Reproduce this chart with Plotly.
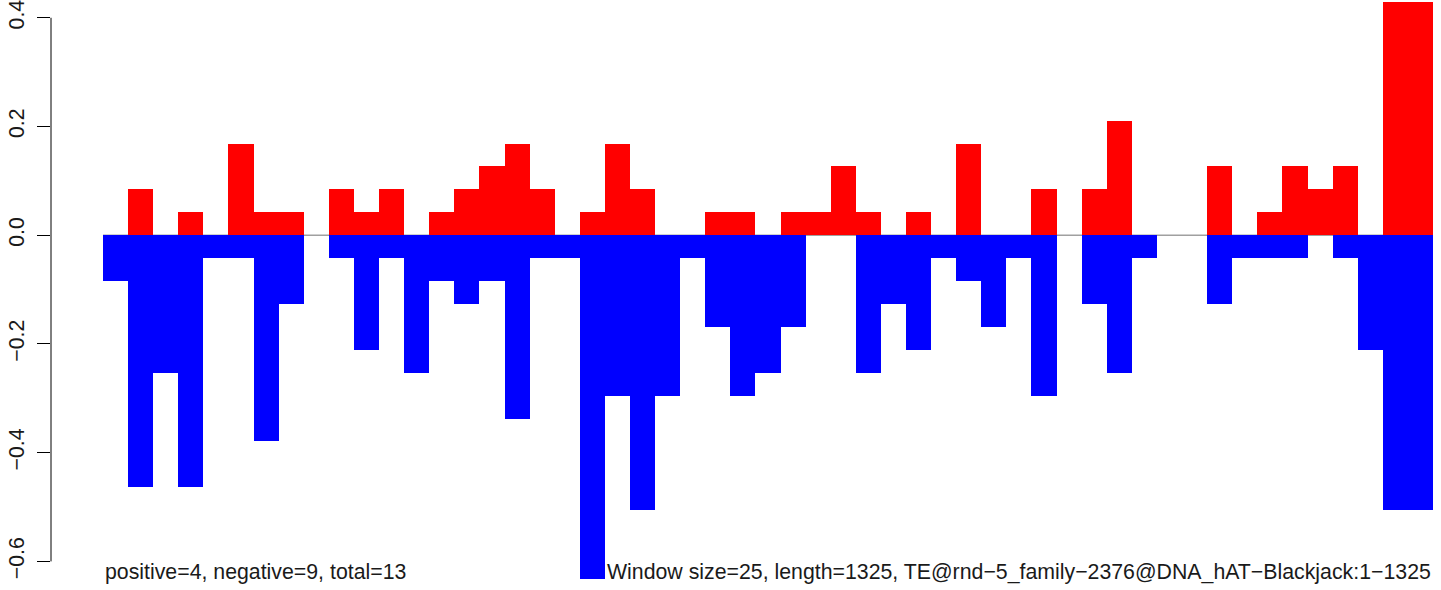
import plotly.graph_objects as go

window_size = 25
seq_length = 1325
window_starts = list(range(0, 1325, 25))  # 53 windows

positive = [0, 0.0843, 0, 0.0422, 0, 0.1686, 0.0422, 0.0422, 0, 0.0843,
            0.0422, 0.0843, 0, 0.0422, 0.0843, 0.1265, 0.1686, 0.0843, 0, 0.0422,
            0.1686, 0.0843, 0, 0, 0.0422, 0.0422, 0, 0.0422, 0.0422, 0.1265,
            0.0422, 0, 0.0422, 0, 0.1686, 0, 0, 0.0843, 0, 0.0843,
            0.2108, 0, 0, 0, 0.1265, 0, 0.0422, 0.1265, 0.0843, 0.1265,
            0, 0.5059, 0.5059]
negative = [-0.0843, -0.4638, -0.2530, -0.4638, -0.0422, -0.0422, -0.3794, -0.1265, 0, -0.0422,
            -0.2108, -0.0422, -0.2530, -0.0843, -0.1265, -0.0843, -0.3373, -0.0422, -0.0422, -0.6324,
            -0.2951, -0.5059, -0.2951, -0.0422, -0.1686, -0.2951, -0.2530, -0.1686, 0, 0,
            -0.2530, -0.1265, -0.2108, -0.0422, -0.0843, -0.1686, -0.0422, -0.2951, 0, -0.1265,
            -0.2530, -0.0422, 0, 0, -0.1265, -0.0422, -0.0422, -0.0422, 0, -0.0422,
            -0.2108, -0.5059, -0.5059]

ytick_vals = [-0.6, -0.4, -0.2, 0.0, 0.2, 0.4]
ytick_text = ["\u22120.6", "\u22120.4", "\u22120.2", "0.0", "0.2", "0.4"]

left_label = "positive=4, negative=9, total=13"
right_label = ("Window size=25, length=1325, TE@rnd\u22125_family\u22122376"
               "@DNA_hAT\u2212Blackjack:1\u22121325")

FONT = "Liberation Sans, Arial, Helvetica, sans-serif"

x_centers = [s + window_size / 2 for s in window_starts]

fig = go.Figure()
fig.add_trace(go.Bar(x=x_centers, y=positive, width=window_size,
                     marker=dict(color="#FF0000", line=dict(width=0)),
                     hoverinfo="skip"))
fig.add_trace(go.Bar(x=x_centers, y=negative, width=window_size,
                     marker=dict(color="#0000FF", line=dict(width=0)),
                     hoverinfo="skip"))

# zero reference line across the sequence
fig.add_shape(type="line", x0=0, x1=seq_length, y0=0, y1=0,
              xref="x", yref="y", layer="below",
              line=dict(color="#A0A0A0", width=1.5))
# y axis line spanning from first to last tick (R style)
fig.add_shape(type="line", x0=0, x1=0, y0=-0.6, y1=0.4,
              xref="paper", yref="y", layer="above",
              line=dict(color="black", width=1))

fig.add_annotation(text=left_label, x=0, y=-0.619, xref="x", yref="y",
                   xanchor="left", yanchor="middle", showarrow=False,
                   font=dict(family=FONT, size=21.3, color="#1a1a1a"))
fig.add_annotation(text=right_label, x=seq_length, y=-0.619, xref="x", yref="y",
                   xanchor="right", yanchor="middle", showarrow=False,
                   font=dict(family=FONT, size=21.3, color="#1a1a1a"))

fig.update_layout(
    width=1441, height=590,
    margin=dict(l=51, r=0, t=0, b=0, pad=0),
    paper_bgcolor="white", plot_bgcolor="white",
    showlegend=False, barmode="overlay", bargap=0,
    xaxis=dict(range=[-51.8, 1333.0], visible=False, showgrid=False,
               zeroline=False, fixedrange=True),
    yaxis=dict(range=[-0.6526, 0.4290], showgrid=False, zeroline=False,
               showline=False, ticks="outside", ticklen=13, tickwidth=1,
               tickcolor="black", tickvals=ytick_vals, ticktext=ytick_text,
               tickangle=-90, ticklabelstandoff=4, ticklabeloverflow="allow",
               tickfont=dict(family=FONT, size=21.3, color="#1a1a1a"),
               fixedrange=True),
)

fig.write_html(
    "out.html",
    config={"displayModeBar": False, "staticPlot": True},
    post_script="document.body.style.margin='0';document.body.style.overflow='hidden';",
)
